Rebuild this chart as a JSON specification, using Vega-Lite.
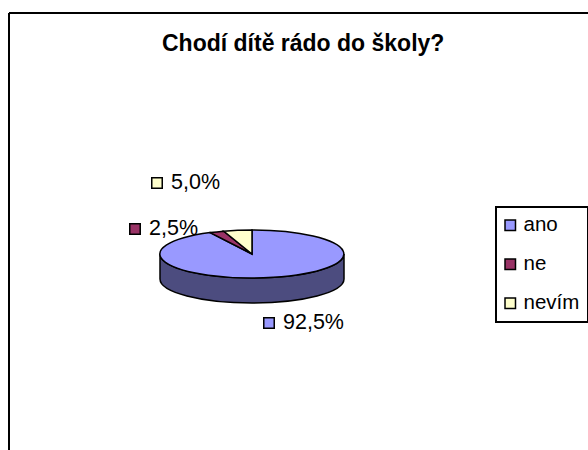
{
"$schema":"https://vega.github.io/schema/vega-lite/v6.json",
"width":579,"height":437,
"autosize":"none",
"padding":{"left":9,"top":13,"right":0,"bottom":0},
"background":"white",
"config":{"view":{"stroke":null},"font":"Liberation Sans"},
"title":{"text":"Chodí dítě rádo do školy?","font":"Liberation Sans","fontSize":23,"fontWeight":"bold","color":"black","anchor":"start","frame":"group","dx":153,"offset":-43},
"data":{"values":[
{"category":"ano","value":92.5,"label":"92,5%"},
{"category":"ne","value":2.5,"label":"2,5%"},
{"category":"nevím","value":5.0,"label":"5,0%"}
]},
"resolve":{"scale":{"x":"independent","y":"independent","shape":"independent","fill":"independent"},"axis":{"x":"independent","y":"independent"},"legend":{"fill":"independent","shape":"independent"}},
"layer":[
{"mark":{"type":"point","opacity":0},
 "encoding":{
  "x":{"field":"category","type":"nominal","scale":{"type":"point"},"axis":{"orient":"top","labels":false,"ticks":false,"title":null,"grid":false,"domainColor":"black","domainWidth":2,"translate":0}},
  "y":{"field":"category","type":"nominal","scale":{"type":"point"},"axis":{"orient":"left","labels":false,"ticks":false,"title":null,"grid":false,"domainColor":"black","domainWidth":2,"translate":0}}
 }},
{"transform":[{"filter":"datum.category==='ano'"}],
 "mark":{"type":"point","filled":true,"opacity":1,"color":"#4C4C7F","stroke":"black","strokeWidth":1.5,"size":40000,"shape":"M-.92,0A.92,.24 0 0 0 .92,0L.92,.25A.92,.24 0 0 1 -.92,.25Z"},
 "encoding":{
  "x":{"field":"category","type":"nominal","scale":{"domain":["ano"],"range":[243,243]},"axis":null},
  "y":{"field":"category","type":"nominal","scale":{"domain":["ano"],"range":[241,241]},"axis":null}
 }},
{"mark":{"type":"point","filled":true,"opacity":1,"stroke":"black","strokeWidth":1.5,"size":40000},
 "encoding":{
  "x":{"field":"category","type":"nominal","scale":{"domain":["ano","ne","nevím"],"range":[243,243]},"axis":null},
  "y":{"field":"category","type":"nominal","scale":{"domain":["ano","ne","nevím"],"range":[241,241]},"axis":null},
  "shape":{"field":"category","type":"nominal","legend":null,"scale":{"domain":["ano","ne","nevím"],"range":[
    "M0,0L0,-.24A.92,.24 0 1 1 -.418,-.214Z",
    "M0,0L-.418,-.214A.92,.24 0 0 1 -.284,-.228Z",
    "M0,0L-.284,-.228A.92,.24 0 0 1 0,-.24Z"]}},
  "fill":{"field":"category","type":"nominal","scale":{"domain":["ano","ne","nevím"],"range":["#9999FF","#993366","#FFFFCC"]},"legend":null}
 }},
{"mark":{"type":"square","opacity":1,"stroke":"black","strokeWidth":1.5,"size":110},
 "encoding":{
  "x":{"field":"value","type":"quantitative","scale":{"domain":[2.5,5,92.5],"range":[126,148,260],"zero":false,"nice":false},"axis":null},
  "y":{"field":"value","type":"quantitative","scale":{"domain":[2.5,5,92.5],"range":[216,170,310],"zero":false,"nice":false},"axis":null},
  "fill":{"field":"category","type":"nominal","scale":{"domain":["ano","ne","nevím"],"range":["#9999FF","#993366","#FFFFCC"]},
   "legend":{"title":null,"orient":"none","legendX":487,"legendY":194,"padding":8,"strokeColor":"black","fillColor":"white","symbolType":"square","symbolSize":110,"symbolStrokeColor":"black","symbolStrokeWidth":1.5,"symbolOpacity":1,"labelFont":"Liberation Sans","labelFontSize":20.5,"labelColor":"black","rowPadding":18,"labelOffset":3,"symbolOffset":-4,"labelLimit":100,"encode":{"legend":{"update":{"strokeWidth":{"value":2}}}}}}
 }},
{"mark":{"type":"text","align":"left","baseline":"middle","font":"Liberation Sans","fontSize":21.5,"color":"black"},
 "encoding":{
  "x":{"field":"value","type":"quantitative","scale":{"domain":[2.5,5,92.5],"range":[140,162,274],"zero":false,"nice":false},"axis":null},
  "y":{"field":"value","type":"quantitative","scale":{"domain":[2.5,5,92.5],"range":[216,170,310],"zero":false,"nice":false},"axis":null},
  "text":{"field":"label","type":"nominal"}
 }}
]
}
